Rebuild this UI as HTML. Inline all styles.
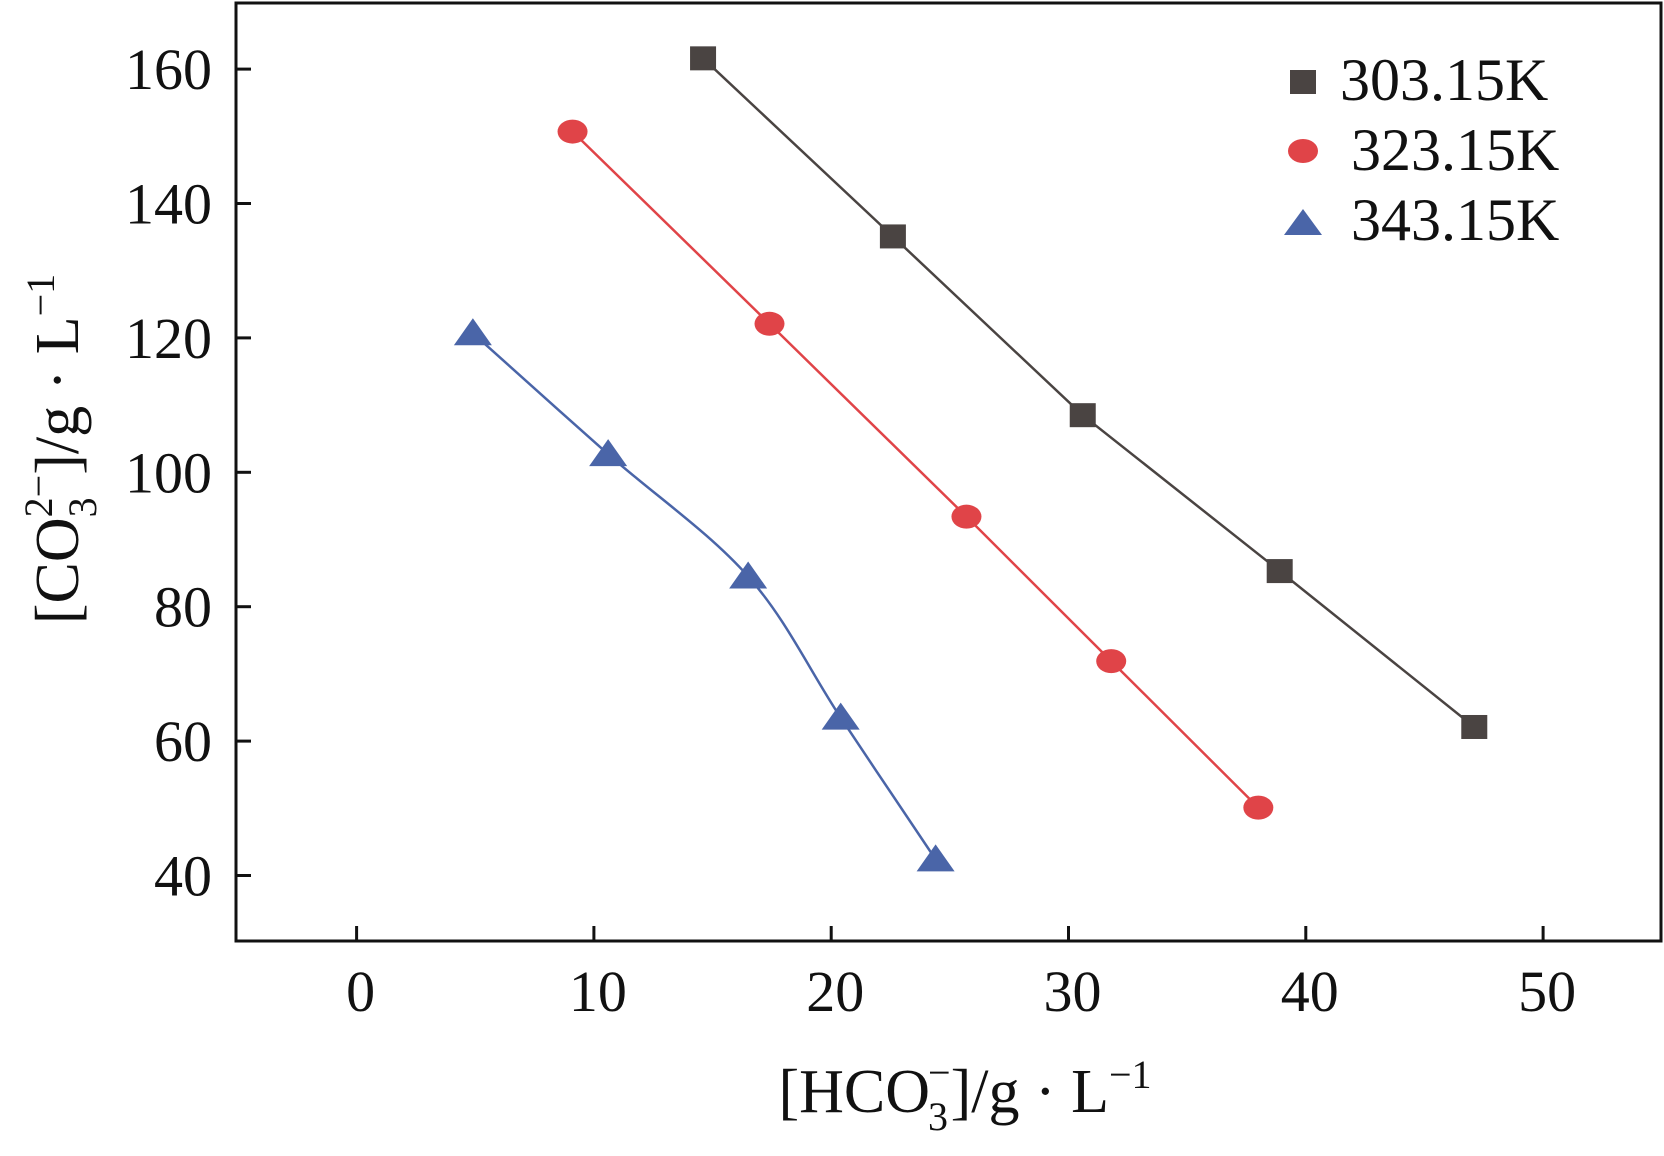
<!DOCTYPE html>
<html><head><meta charset="utf-8"><style>
html,body{margin:0;padding:0;background:#fff;}
svg{display:block;font-family:"Liberation Serif",serif;}
</style></head><body>
<svg id="chart" width="1664" height="1156" viewBox="0 0 1664 1156">
<rect x="236" y="3" width="1425" height="938" fill="none" stroke="#111" stroke-width="3"/>
<g id="axes"></g>
<g id="series"></g>
<g>
<rect x="1290" y="70" width="26" height="24" fill="#4a4442"/>
<text x="1340" y="100" font-size="60" fill="#111">303.15K</text>
<ellipse cx="1303" cy="151" rx="15" ry="12" fill="#e04448"/>
<text x="1351" y="170" font-size="60" fill="#111">323.15K</text>
<polygon points="1284,235 1322,235 1303,209" fill="#4a65a8"/>
<text x="1351" y="240" font-size="60" fill="#111">343.15K</text>
</g>
<text x="965" y="1112" font-size="62" text-anchor="middle" fill="#111">[HCO<tspan font-size="40" dy="18" dx="-2">3</tspan><tspan font-size="40" dy="-44" dx="-20">−</tspan><tspan dy="26">]/g · L</tspan><tspan font-size="40" dy="-24">−1</tspan></text>
<text transform="translate(78,449) rotate(-90)" font-size="62" text-anchor="middle" fill="#111">[CO<tspan font-size="40" dy="18">3</tspan><tspan font-size="40" dy="-44" dx="-20">2−</tspan><tspan dy="26">]/g · L</tspan><tspan font-size="40" dy="-24">−1</tspan></text>
</svg>
<script>
const xTicks=[0,10,20,30,40,50];
const yTicks=[40,60,80,100,120,140,160];
const seriesNames=["303.15K","323.15K","343.15K"];
const x303=[14.6,22.6,30.6,38.9,47.1];
const y303=[161.6,135.1,108.5,85.3,62.1];
const x323=[9.1,17.4,25.7,31.8,38.0];
const y323=[150.7,122.1,93.4,71.9,50.1];
const x343=[4.9,10.6,16.5,20.4,24.4];
const y343=[120.7,102.7,84.5,63.5,42.4];

const NS="http://www.w3.org/2000/svg";
function sx(v){return 356.6+v*23.73;}
function sy(v){return 875.5-(v-40)*6.72;}
function mk(tag,attrs,parent){const e=document.createElementNS(NS,tag);for(const k in attrs)e.setAttribute(k,attrs[k]);parent.appendChild(e);return e;}
const axes=document.getElementById('axes');
const ser=document.getElementById('series');
xTicks.forEach(t=>{
  const l=mk('line',{x1:sx(t),x2:sx(t),y1:941,y2:926,stroke:'#111','stroke-width':3},axes);
  
  
  const tx=mk('text',{x:sx(t)+4,y:1011,'font-size':58,'text-anchor':'middle',fill:'#111'},axes);
  tx.textContent=t;
  
  
});
yTicks.forEach(t=>{
  const l=mk('line',{x1:236,x2:251,y1:sy(t),y2:sy(t),stroke:'#111','stroke-width':3},axes);
  
  
  const tx=mk('text',{x:212,y:sy(t)+20,'font-size':58,'text-anchor':'end',fill:'#111'},axes);
  tx.textContent=t;
  
  
});
function polyline(xs,ys,color,name){
  const d=xs.map((x,i)=>(i?'L':'M')+sx(x)+','+sy(ys[i])).join(' ');
  const p=mk('path',{d:d,fill:'none',stroke:color,'stroke-width':2.5},ser);
  
  
}
function smooth(xs,ys,color,name){
  const P=xs.map((x,i)=>[sx(x),sy(ys[i])]);
  let d='M'+P[0][0]+','+P[0][1];
  for(let i=0;i<P.length-1;i++){
    const p0=P[Math.max(0,i-1)],p1=P[i],p2=P[i+1],p3=P[Math.min(P.length-1,i+2)];
    const c1=[p1[0]+(p2[0]-p0[0])/6,p1[1]+(p2[1]-p0[1])/6];
    const c2=[p2[0]-(p3[0]-p1[0])/6,p2[1]-(p3[1]-p1[1])/6];
    d+=' C'+c1[0]+','+c1[1]+' '+c2[0]+','+c2[1]+' '+p2[0]+','+p2[1];
  }
  const p=mk('path',{d:d,fill:'none',stroke:color,'stroke-width':2.5},ser);
  
  
}
polyline(x303,y303,'#4a4442','line-303');
polyline(x323,y323,'#e04448','line-323');
smooth(x343,y343,'#4a65a8','line-343');
x303.forEach((x,i)=>{
  const r=mk('rect',{x:sx(x)-13,y:sy(y303[i])-12,width:26,height:24,fill:'#4a4442'},ser);
  
  
});
x323.forEach((x,i)=>{
  const c=mk('ellipse',{cx:sx(x),cy:sy(y323[i]),rx:15,ry:12,fill:'#e04448'},ser);
  
  
});
x343.forEach((x,i)=>{
  const X=sx(x),Y=sy(y343[i]);
  const t=mk('polygon',{points:(X-19)+','+(Y+12)+' '+(X+19)+','+(Y+12)+' '+X+','+(Y-15),fill:'#4a65a8'},ser);
  
  
});
</script>
</body></html>
